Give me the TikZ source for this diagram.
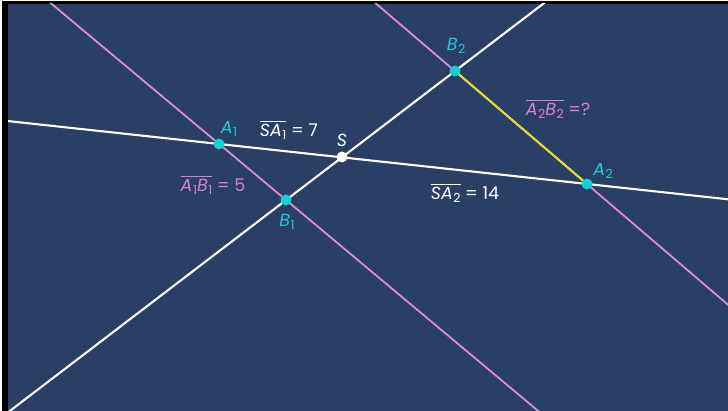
\documentclass[tikz,border=0pt]{standalone}
\usepackage{fontspec}
\setmainfont{Poppins}
\definecolor{bg}{RGB}{42,63,101}
\definecolor{cyanpt}{RGB}{20,208,208}
\definecolor{cyantx}{RGB}{40,200,215}
\definecolor{pinkln}{RGB}{222,140,212}
\definecolor{pinktx}{RGB}{212,132,204}
\definecolor{yel}{RGB}{228,218,40}
\newcommand{\pt}[2]{\textit{#1}\kern0.03em\raisebox{-0.3ex}{\fontsize{12.5}{12.5}\selectfont #2}}
\newcommand{\seg}[1]{$\overline{\hbox{\rule{0pt}{0.84em}#1}}$}
\tikzset{
  whiteline/.style={draw=white, line width=2.1pt},
  pinkline/.style={draw=pinkln, line width=1.8pt},
  yelline/.style={draw=yel, line width=2.1pt},
  dot/.style={circle, fill=cyanpt, inner sep=0pt, minimum size=11pt},
  sdot/.style={circle, fill=white, inner sep=0pt, minimum size=11pt},
  lbl/.style={font=\fontsize{17.5}{17.5}\selectfont, inner sep=0pt},
}
\begin{document}
\begin{tikzpicture}[x=1pt,y=-1pt]
\useasboundingbox (0,0) rectangle (728,411);
\fill[white] (0,0) rectangle (728,411);
\fill[black] (2,1) rectangle (728,411);
\fill[bg] (8,4) rectangle (728,411);
\coordinate (S) at (342,157);
\coordinate (A1) at (219,144);
\coordinate (B1) at (286,200);
\coordinate (B2) at (455,71);
\coordinate (A2) at (587,184);
\coordinate (La) at (0,120.2);
\coordinate (Lb) at (740,200.6);
\coordinate (Ma) at (-2,420);
\coordinate (Mb) at (554.6,-5);
\coordinate (Pa) at (41,-5);
\coordinate (Pb) at (549,420);
\coordinate (Qa) at (366,-5);
\coordinate (Qb) at (740,315);
\begin{scope}
\clip (8,4) rectangle (728,411);
\draw[pinkline] (Pa) -- (Pb);
\draw[pinkline] (Qa) -- (Qb);
\draw[whiteline] (La) -- (Lb);
\draw[whiteline] (Ma) -- (Mb);
\draw[yelline] (B2) -- (A2);
\end{scope}
\node[dot] (nA1) at (A1) {};
\node[dot] (nB1) at (B1) {};
\node[dot] (nA2) at (A2) {};
\node[dot] (nB2) at (B2) {};
\node[sdot] (nS) at (S) {};
\node[lbl, text=cyantx] (tA1) at (229,129) {\pt{A}{1}};
\node[lbl, text=cyantx] (tB1) at (287,222) {\pt{B}{1}};
\node[lbl, text=cyantx] (tB2) at (456,46) {\pt{B}{2}};
\node[lbl, text=cyantx] (tA2) at (603,171) {\pt{A}{2}};
\node[lbl, text=white] (tS) at (342,140) {\textit{S}};
\node[lbl, text=white] (tSA1) at (289,130) {\seg{\textit{S}\pt{A}{1}} = 7};
\node[lbl, text=white] (tSA2) at (465,193) {\seg{\textit{S}\pt{A}{2}} = 14};
\node[lbl, text=pinktx] (tA1B1) at (213,185) {\seg{\pt{A}{1}\pt{B}{1}} = 5};
\node[lbl, text=pinktx] (tA2B2) at (558,109) {\seg{\pt{A}{2}\pt{B}{2}} =?};
\end{tikzpicture}
\end{document}
